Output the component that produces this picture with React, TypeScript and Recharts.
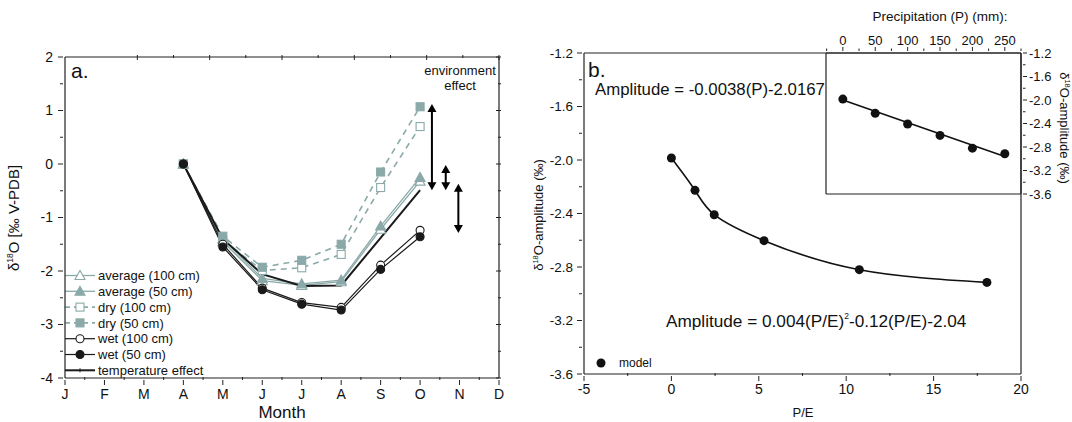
import React from 'react';
import { LineChart, Line, XAxis, YAxis, ComposedChart, Scatter, ReferenceLine, Customized } from 'recharts';

const FONT = '"Liberation Sans", Arial, Helvetica, sans-serif';
const TEAL = '#8ba9a9';
const INK = '#1a1a1a';

// panel a: monthly d18O change relative to April (A..O)
const months = [4, 5, 6, 7, 8, 9, 10];
const average100 = [0, -1.45, -2.18, -2.27, -2.2, -1.22, -0.32];
const average50 = [0, -1.4, -2.14, -2.24, -2.17, -1.16, -0.25];
const dry100 = [0, -1.42, -1.99, -1.94, -1.69, -0.44, 0.7];
const dry50 = [0, -1.35, -1.93, -1.8, -1.5, -0.15, 1.07];
const wet100 = [0, -1.5, -2.32, -2.59, -2.68, -1.89, -1.24];
const wet50 = [0, -1.55, -2.35, -2.62, -2.73, -1.97, -1.36];
const temperature = [0, -1.4, -2.06, -2.28, -2.27, -1.38, -0.49];
const monthLetters = ['J', 'F', 'M', 'A', 'M', 'J', 'J', 'A', 'S', 'O', 'N', 'D'];

// environment effect arrows (month position, top, bottom)
const arrowMonth = [10.3, 10.65, 10.97];
const arrowTop = [1.12, -0.02, -0.37];
const arrowBottom = [-0.49, -0.49, -1.29];

// panel b: model amplitude vs P/E and vs precipitation
const peRatio = [0, 1.35, 2.45, 5.3, 10.75, 18.05];
const amplitude = [-1.985, -2.227, -2.409, -2.603, -2.82, -2.915];
const precipitation = [0, 50, 100, 150, 200, 250];
const precipFitP = [0, 250];
const precipFitAmp = [-2.0, -2.96];

const steps = (a: number, b: number, s: number) =>
  Array.from({ length: Math.round((b - a) / s) + 1 }, (_, i) => +(a + i * s).toFixed(3));

const monthlyRows = months.map((m, i) => ({
  month: m,
  avg100: average100[i],
  avg50: average50[i],
  dry100: dry100[i],
  dry50: dry50[i],
  wet100: wet100[i],
  wet50: wet50[i],
  temp: temperature[i],
}));
const peRows = peRatio.map((pe, i) => ({ pe, amp: amplitude[i] }));
const precipRows = precipitation.map((p, i) => ({ p, amp: amplitude[i] }));
const precipFitRows = precipFitP.map((p, i) => ({ p, amp: precipFitAmp[i] }));

type Shape = 'triangle' | 'square' | 'circle' | 'none';

const drawMarker = (shape: Shape, cx: number, cy: number, color: string, filled: boolean, key?: any) => {
  const fill = filled ? color : '#fff';
  if (shape === 'triangle')
    return <polygon key={key} points={`${cx},${cy - 5} ${cx - 5},${cy + 4} ${cx + 5},${cy + 4}`} fill={fill} stroke={color} strokeWidth={1.1} />;
  if (shape === 'square')
    return <rect key={key} x={cx - 4} y={cy - 4} width={8} height={8} fill={fill} stroke={color} strokeWidth={1.1} />;
  if (shape === 'circle')
    return <circle key={key} cx={cx} cy={cy} r={4} fill={fill} stroke={color} strokeWidth={1.1} />;
  return <line key={key} x1={cx} x2={cx} y1={cy - 2} y2={cy + 2} stroke={color} strokeWidth={1} />;
};

const seriesA = [
  { key: 'avg100', name: 'average (100 cm)', color: TEAL, shape: 'triangle' as Shape, filled: false, dash: undefined, width: 1.3 },
  { key: 'avg50', name: 'average (50 cm)', color: TEAL, shape: 'triangle' as Shape, filled: true, dash: undefined, width: 1.3 },
  { key: 'dry100', name: 'dry (100 cm)', color: TEAL, shape: 'square' as Shape, filled: false, dash: '6 5', width: 1.6 },
  { key: 'dry50', name: 'dry (50 cm)', color: TEAL, shape: 'square' as Shape, filled: true, dash: '6 5', width: 1.6 },
  { key: 'wet100', name: 'wet (100 cm)', color: INK, shape: 'circle' as Shape, filled: false, dash: undefined, width: 1.2 },
  { key: 'wet50', name: 'wet (50 cm)', color: INK, shape: 'circle' as Shape, filled: true, dash: undefined, width: 1.2 },
  { key: 'temp', name: 'temperature effect', color: INK, shape: 'none' as Shape, filled: true, dash: undefined, width: 2 },
];

type Side = 'bottom' | 'top' | 'left' | 'right';
interface TickSpec {
  side: Side;
  major: number;
  majorLen: number;
  minorLen: number;
  majorIn?: boolean;
  minorIn?: boolean;
  gap?: number;
  fontSize?: number;
  fmt?: (v: number) => string;
}

// tickSize=0 / tickMargin=0 so x,y arrive on the axis line; draw tick + label here
const axisTick = (spec: TickSpec) => (props: any) => {
  const { x, y, payload } = props;
  const v = payload.value;
  const r = v / spec.major;
  const isMajor = Math.abs(r - Math.round(r)) < 1e-6;
  const len = isMajor ? spec.majorLen : spec.minorLen;
  const inward = isMajor ? spec.majorIn : spec.minorIn;
  const d = inward ? -len : len;
  const gap = spec.gap ?? 8;
  const fs = spec.fontSize ?? 13;
  const label = isMajor && spec.fmt ? spec.fmt(v) : null;
  const tp = { fontFamily: FONT, fontSize: fs, fill: '#111' };
  let line = null;
  let text = null;
  if (spec.side === 'bottom') {
    line = <line x1={x} x2={x} y1={y} y2={y + d} stroke="#222" />;
    if (label) text = <text x={x} y={y + gap} dy="0.71em" textAnchor="middle" {...tp}>{label}</text>;
  } else if (spec.side === 'top') {
    line = <line x1={x} x2={x} y1={y} y2={y - d} stroke="#222" />;
    if (label) text = <text x={x} y={y - gap} textAnchor="middle" {...tp}>{label}</text>;
  } else if (spec.side === 'left') {
    line = <line x1={x} x2={x - d} y1={y} y2={y} stroke="#222" />;
    if (label) text = <text x={x - gap} y={y} dy="0.35em" textAnchor="end" {...tp}>{label}</text>;
  } else {
    line = <line x1={x} x2={x + d} y1={y} y2={y} stroke="#222" />;
    if (label) text = <text x={x + gap} y={y} dy="0.35em" textAnchor="start" {...tp}>{label}</text>;
  }
  return (
    <g>
      {line}
      {text}
    </g>
  );
};

const ArrowShape = (props: any) => {
  const { x1, y1, y2 } = props;
  const top = Math.min(y1, y2);
  const bot = Math.max(y1, y2);
  const h = 8;
  const w = 4.5;
  return (
    <g>
      <line x1={x1} x2={x1} y1={top + h - 1} y2={bot - h + 1} stroke="#000" strokeWidth={2} />
      <polygon points={`${x1},${top} ${x1 - w},${top + h} ${x1 + w},${top + h}`} fill="#000" />
      <polygon points={`${x1},${bot} ${x1 - w},${bot - h} ${x1 + w},${bot - h}`} fill="#000" />
    </g>
  );
};

const axisLineStyle = { stroke: '#222', strokeWidth: 1.2 };

const PanelAText = () => (
  <g fontFamily={FONT} fill="#111">
    <text x={71} y={78} fontSize={21}>a.</text>
    <text x={460} y={75} fontSize={13} textAnchor="middle">environment</text>
    <text x={460} y={90} fontSize={13} textAnchor="middle">effect</text>
    <text x={282} y={418} fontSize={17} textAnchor="middle">Month</text>
    <text transform="translate(19,218) rotate(-90)" fontSize={15} textAnchor="middle">
      δ<tspan fontSize={8.5} dy={-6}>18</tspan>
      <tspan dy={6}>O [‰ V-PDB]</tspan>
    </text>
    {seriesA.map((s, i) => {
      const cy = 275.5 + i * 15.8;
      return (
        <g key={s.key}>
          <line x1={65} x2={95} y1={cy} y2={cy} stroke={s.color} strokeWidth={s.width} strokeDasharray={s.dash ? '5 4' : undefined} />
          {drawMarker(s.shape, 80, cy, s.color, s.filled)}
          <text x={98} y={cy + 4.6} fontSize={13}>{s.name}</text>
        </g>
      );
    })}
  </g>
);

// panel b container starts at x=525
const PanelBText = () => (
  <g fontFamily={FONT} fill="#111">
    <text x={63} y={77} fontSize={21}>b.</text>
    <text x={70} y={95} fontSize={16.8}>Amplitude = -0.0038(P)-2.0167</text>
    <text x={141} y={327} fontSize={17.2}>
      Amplitude = 0.004(P/E)<tspan fontSize={8.5} dy={-8}>2</tspan>
      <tspan dy={8}>-0.12(P/E)-2.04</tspan>
    </text>
    <circle cx={76} cy={363} r={4.5} fill="#111" />
    <text x={94} y={367} fontSize={12}>model</text>
    <text x={278} y={417} fontSize={13} textAnchor="middle">P/E</text>
    <text transform="translate(18,215) rotate(-90)" fontSize={13} textAnchor="middle">
      δ<tspan fontSize={7.5} dy={-5}>18</tspan>
      <tspan dy={5}>O-amplitude (‰)</tspan>
    </text>
  </g>
);

const InsetText = () => (
  <g fontFamily={FONT} fill="#111">
    <text x={115} y={21} fontSize={13.5} textAnchor="middle">Precipitation (P) (mm):</text>
    <text transform="translate(235,128) rotate(90)" fontSize={13} textAnchor="middle">
      δ<tspan fontSize={7.5} dy={-5}>18</tspan>
      <tspan dy={5}>O-amplitude (‰)</tspan>
    </text>
  </g>
);

export default function App() {
  return (
    <div style={{ position: 'absolute', left: 0, top: 0, width: 1072, height: 422, background: '#fff' }}>
      <div style={{ position: 'absolute', left: 0, top: 0 }}>
        <LineChart width={525} height={422} data={monthlyRows} margin={{ top: 56, right: 25, bottom: 0, left: 0 }}>
          <XAxis
            dataKey="month"
            type="number"
            domain={[1, 12]}
            ticks={steps(1, 12, 0.5)}
            interval={0}
            height={44}
            tickSize={0}
            tickLine={false}
            axisLine={axisLineStyle}
            allowDataOverflow
            tick={axisTick({ side: 'bottom', major: 1, majorLen: 5, minorLen: 3, minorIn: true, gap: 9, fontSize: 14, fmt: (v) => monthLetters[v - 1] })}
          />
          <XAxis
            xAxisId="t"
            orientation="top"
            type="number"
            domain={[1, 12]}
            ticks={steps(1, 12, 0.5)}
            interval={0}
            height={1}
            tickSize={0}
            tickLine={false}
            axisLine={axisLineStyle}
            allowDataOverflow
            tick={axisTick({ side: 'top', major: 1, majorLen: 5, minorLen: 3, majorIn: true, minorIn: true })}
          />
          <YAxis
            type="number"
            domain={[-4, 2]}
            ticks={steps(-4, 2, 0.5)}
            interval={0}
            width={65}
            tickSize={0}
            tickLine={false}
            axisLine={axisLineStyle}
            allowDataOverflow
            tick={axisTick({ side: 'left', major: 1, majorLen: 5, minorLen: 3, gap: 10, fontSize: 14, fmt: (v) => String(v) })}
          />
          <YAxis
            yAxisId="r"
            orientation="right"
            type="number"
            domain={[-4, 2]}
            ticks={steps(-4, 2, 0.5)}
            interval={0}
            width={1}
            tickSize={0}
            tickLine={false}
            axisLine={axisLineStyle}
            allowDataOverflow
            tick={axisTick({ side: 'right', major: 1, majorLen: 5, minorLen: 3, majorIn: true, minorIn: true })}
          />
          {seriesA.map((s) => (
            <Line
              key={s.key}
              dataKey={s.key}
              type="linear"
              stroke={s.color}
              strokeWidth={s.width}
              strokeDasharray={s.dash}
              dot={s.shape === 'none' ? false : (p: any) => drawMarker(s.shape, p.cx, p.cy, s.color, s.filled, `${s.key}-${p.index}`)}
              activeDot={false}
              isAnimationActive={false}
            />
          ))}
          {arrowMonth.map((m, i) => (
            <ReferenceLine
              key={`arrow-${i}`}
              segment={[
                { x: m, y: arrowTop[i] },
                { x: m, y: arrowBottom[i] },
              ]}
              ifOverflow="visible"
              shape={ArrowShape}
            />
          ))}
          <Customized component={PanelAText} />
        </LineChart>
      </div>

      <div style={{ position: 'absolute', left: 525, top: 0 }}>
        <ComposedChart width={547} height={422} data={peRows} margin={{ top: 52, right: 50, bottom: 0, left: 0 }}>
          <XAxis
            dataKey="pe"
            type="number"
            domain={[-5, 20]}
            ticks={steps(-5, 20, 2.5)}
            interval={0}
            height={48}
            tickSize={0}
            tickLine={false}
            axisLine={axisLineStyle}
            allowDataOverflow
            tick={axisTick({ side: 'bottom', major: 5, majorLen: 5, minorLen: 3, minorIn: true, gap: 8, fontSize: 14, fmt: (v) => String(v) })}
          />
          <XAxis xAxisId="t" orientation="top" type="number" domain={[-5, 20]} height={1} tick={false} tickLine={false} axisLine={axisLineStyle} allowDataOverflow />
          <YAxis
            type="number"
            domain={[-3.6, -1.2]}
            ticks={steps(-3.6, -1.2, 0.2)}
            interval={0}
            width={59}
            tickSize={0}
            tickLine={false}
            axisLine={axisLineStyle}
            allowDataOverflow
            tick={axisTick({ side: 'left', major: 0.4, majorLen: 5, minorLen: 3, gap: 9, fontSize: 13.5, fmt: (v) => v.toFixed(1) })}
          />
          <YAxis yAxisId="r" orientation="right" type="number" domain={[-3.6, -1.2]} width={1} tick={false} tickLine={false} axisLine={axisLineStyle} allowDataOverflow />
          <Line
            dataKey="amp"
            type="natural"
            stroke="#111"
            strokeWidth={1.6}
            dot={{ r: 4.5, fill: '#111', stroke: '#111', strokeWidth: 0 }}
            activeDot={false}
            isAnimationActive={false}
          />
          <Customized component={PanelBText} />
        </ComposedChart>
      </div>

      <div style={{ position: 'absolute', left: 825, top: 0 }}>
        <ComposedChart width={246} height={203} margin={{ top: 0, right: 0, bottom: 8, left: 0 }}>
          <XAxis
            dataKey="p"
            orientation="top"
            type="number"
            domain={[-26, 275]}
            ticks={steps(-25, 275, 25)}
            interval={0}
            height={53}
            tickSize={0}
            tickLine={false}
            axisLine={axisLineStyle}
            allowDataOverflow
            tick={axisTick({ side: 'top', major: 50, majorLen: 4, minorLen: 2.5, gap: 6, fontSize: 13, fmt: (v) => String(v) })}
          />
          <XAxis xAxisId="b" type="number" domain={[-26, 275]} height={1} tick={false} tickLine={false} axisLine={axisLineStyle} allowDataOverflow />
          <YAxis
            orientation="right"
            type="number"
            domain={[-3.6, -1.2]}
            ticks={steps(-3.6, -1.2, 0.2)}
            interval={0}
            width={50}
            tickSize={0}
            tickLine={false}
            axisLine={axisLineStyle}
            allowDataOverflow
            tick={axisTick({ side: 'right', major: 0.4, majorLen: 4, minorLen: 2.5, gap: 6, fontSize: 13, fmt: (v) => v.toFixed(1) })}
          />
          <YAxis yAxisId="l" type="number" domain={[-3.6, -1.2]} width={1} tick={false} tickLine={false} axisLine={axisLineStyle} allowDataOverflow />
          <Line data={precipFitRows} dataKey="amp" type="linear" stroke="#111" strokeWidth={1.6} dot={false} activeDot={false} isAnimationActive={false} />
          <Scatter
            data={precipRows}
            dataKey="amp"
            isAnimationActive={false}
            shape={(p: any) => <circle cx={p.cx} cy={p.cy} r={4.5} fill="#111" />}
          />
          <Customized component={InsetText} />
        </ComposedChart>
      </div>
    </div>
  );
}
